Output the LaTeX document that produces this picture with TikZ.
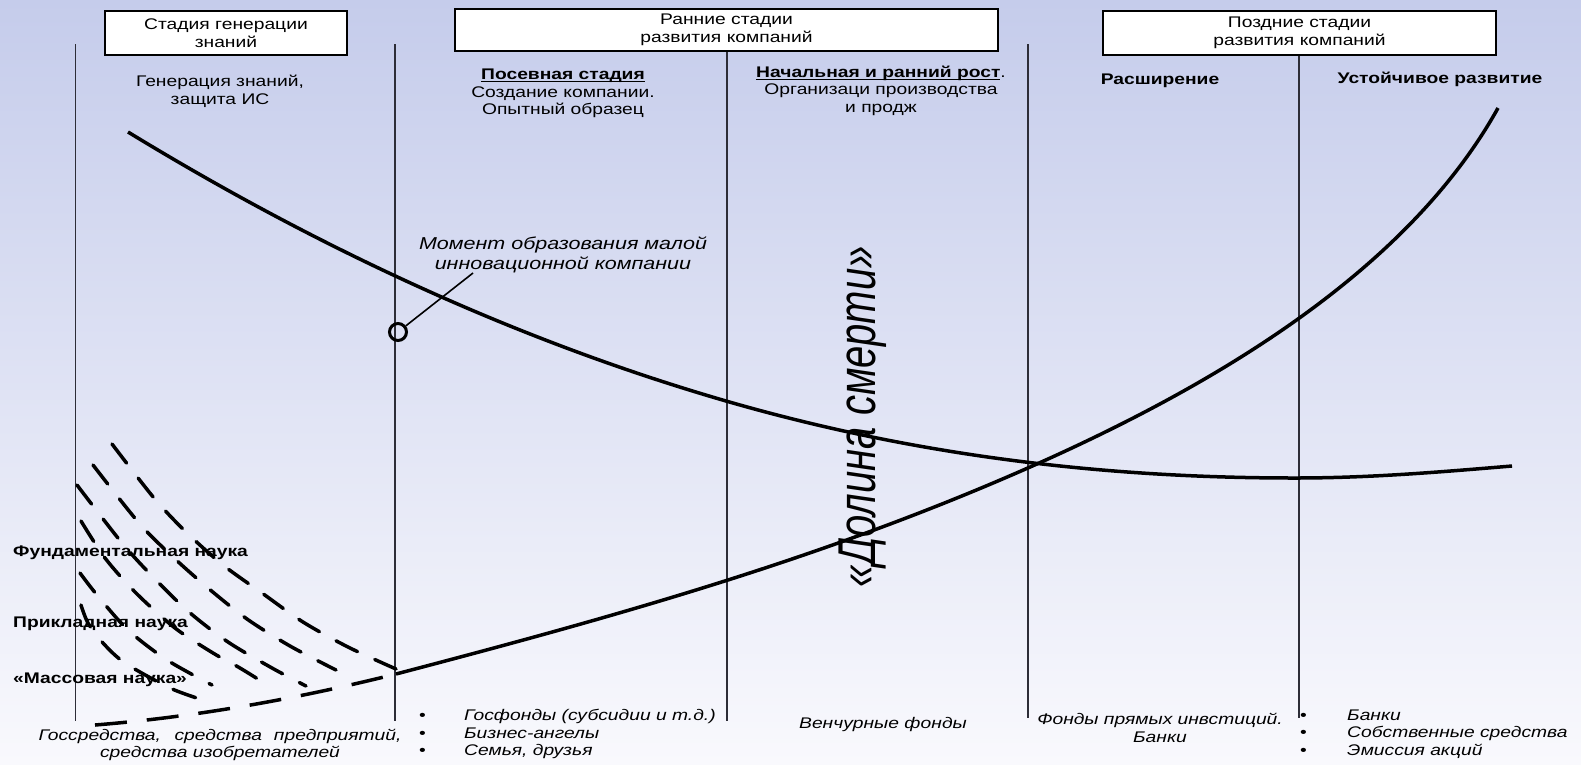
\documentclass[tikz,border=0pt]{standalone}
\usepackage{graphicx}
\usepackage{fontspec}
\setmainfont{Liberation Sans}[FakeStretch=1.25]
\newfontfamily\valleyfont{Liberation Sans}
\definecolor{bgtop}{RGB}{197,204,235}
\definecolor{bgbot}{RGB}{249,249,253}
\definecolor{vcol}{RGB}{45,45,55}
\newlength\ulwidth
\newcommand{\ulx}[1]{\settowidth{\ulwidth}{#1}\rlap{\rule[-2.6pt]{\ulwidth}{1.1pt}}#1}
\tikzset{
  txt/.style={font=\fontsize{15.4}{17.5}\selectfont, inner sep=0pt, align=center},
  hd/.style={txt, font=\fontsize{15.4}{17.5}\selectfont\bfseries},
  itx/.style={txt, font=\fontsize{15.4}{17.5}\selectfont\itshape},
  stagebox/.style={draw, line width=2pt, fill=white, inner sep=0pt, align=center,
    font=\fontsize{15.4}{17.5}\selectfont},
  vline/.style={line width=1.1pt, draw=vcol},
  curve/.style={line width=3.5pt, line join=round},
  fan/.style={line width=3.5pt, dash pattern=on 24pt off 19pt, line cap=round},
  basedash/.style={line width=3.5pt, dash pattern=on 32pt off 20pt},
}
\begin{document}
\begin{tikzpicture}[x=1pt,y=-1pt]
\shade[top color=bgtop, bottom color=bgbot] (0,0) rectangle (1581,764);
\useasboundingbox (0,0) rectangle (1581,764);

% stage boxes
\node[stagebox, minimum width=242pt, minimum height=44pt] (b1) at (226,33) {Стадия генерации\\знаний};
\node[stagebox, minimum width=543pt, minimum height=42pt] (b2) at (726.5,30) {Ранние стадии\\развития компаний};
\node[stagebox, minimum width=393pt, minimum height=44pt] (b3) at (1299.5,33) {Поздние стадии\\развития компаний};

% vertical lines
\coordinate (v1t) at (75.5,44);  \coordinate (v1b) at (75.5,721);
\coordinate (v2t) at (395,44);   \coordinate (v2b) at (395,721);
\coordinate (v3b) at (727,721);
\coordinate (v4t) at (1028,44);  \coordinate (v4b) at (1028,718);
\coordinate (v5b) at (1299,718);
\draw[vline] (v1t) -- (v1b);
\draw[vline] (v2t) -- (v2b);
\draw[vline] (b2.south -| v3b) -- (v3b);
\draw[vline] (v4t) -- (v4b);
\draw[vline] (b3.south -| v5b) -- (v5b);

% headings
\node[txt] (h1) at (220,91.5) {Генерация знаний,\\защита ИС};
\node[txt] (h2) at (563,93.5) {\textbf{\ulx{Посевная стадия}}\\Создание компании.\\Опытный образец};
\node[txt] (h3) at (881,90.5) {\textbf{\ulx{Начальная и ранний рост}}.\\Организаци производства\\и продж};
\node[hd] (h4) at (1160,81) {Расширение};
\node[hd] (h5) at (1440,79) {Устойчивое развитие};

% descending curve
\draw[curve] (128,132) .. controls (328,254) and (526,343) .. (726,401)
  .. controls (916,456) and (1105,478) .. (1295,478)
  .. controls (1370,478) and (1440,472) .. (1512,466);

% ascending curve
\draw[curve] (396,674) .. controls (613,617) and (831,557) .. (1048,459)
  .. controls (1218,382) and (1408,270) .. (1498,108);
\draw[basedash] (95,725) .. controls (195,717) and (296,699) .. (396,674);

% fan of dashed curves
\draw[fan] plot[smooth] coordinates {(112,444) (154,498) (186,532) (223,565) (262,593) (303,622) (348,647) (396,669)};
\draw[fan] plot[smooth] coordinates {(93,465) (139,523) (173,557) (208,588) (247,619) (290,646) (336,670)};
\draw[fan] plot[smooth] coordinates {(77,485) (122,543) (154,578) (189,612) (228,642) (272,668) (306,686)};
\draw[fan] plot[smooth] coordinates {(81,521) (105,558) (136,593) (175,628) (213,653) (240,668) (269,686)};
\draw[fan] plot[smooth] coordinates {(80,573) (97,595) (128,630) (167,660) (212,685)};
\draw[fan] plot[smooth] coordinates {(81,605) (88,623) (103,643) (125,663) (170,688) (203,700)};

% left labels
\node[hd, anchor=west] (l1) at (13,553) {Фундаментальная наука};
\node[hd, anchor=west] (l2) at (13,624) {Прикладная наука};
\node[hd, anchor=west] (l3) at (13,680) {«Массовая наука»};

% moment annotation
\node[txt, font=\fontsize{17.2}{20}\selectfont\itshape] (mtext) at (563,255) {Момент образования малой\\инновационной компании};
\node[circle, draw, line width=3pt, minimum size=17pt, inner sep=0pt] (mom) at (398,332) {};
\coordinate (mlead) at (473,273);
\draw[line width=1.6pt] (mom) -- (mlead);

% valley of death
\node[rotate=90, inner sep=0pt] (valley) at (863,417) {\valleyfont\itshape\fontsize{40}{44}\selectfont\scalebox{1}[1.33]{«Долина смерти»}};

% bottom texts
\node[itx] (f1) at (220,745) {\makebox[363pt][s]{Госсредства, средства предприятий,}\\средства изобретателей};
\node[txt, align=left, anchor=west] (f2) at (419,734) {\makebox[45pt][l]{•}\textit{Госфонды (субсидии и т.д.)}\\\makebox[45pt][l]{•}\textit{Бизнес-ангелы}\\\makebox[45pt][l]{•}\textit{Семья, друзья}};
\node[itx] (f3) at (883,724) {Венчурные фонды};
\node[itx] (f4) at (1160,728) {Фонды прямых инвстиций.\\Банки};
\node[txt, align=left, anchor=west] (f5) at (1300,734) {\makebox[47pt][l]{•}\textit{Банки}\\\makebox[47pt][l]{•}\textit{Собственные средства}\\\makebox[47pt][l]{•}\textit{Эмиссия акций}};
\end{tikzpicture}
\end{document}
